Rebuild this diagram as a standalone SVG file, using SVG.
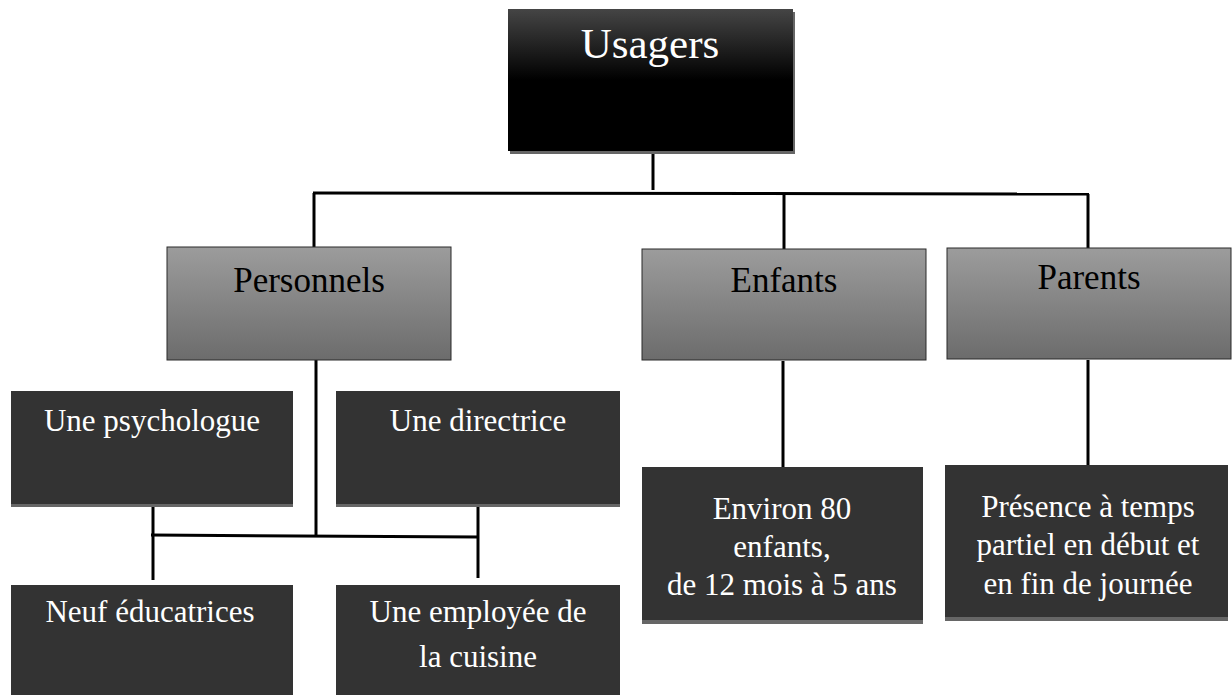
<svg xmlns="http://www.w3.org/2000/svg" width="1232" height="695" viewBox="0 0 1232 695">
<defs>
<linearGradient id="gTop" x1="0" y1="0" x2="0" y2="1">
<stop offset="0" stop-color="#454545"/>
<stop offset="0.5" stop-color="#000"/>
<stop offset="1" stop-color="#000"/>
</linearGradient>
<linearGradient id="gMid" x1="0" y1="0" x2="0" y2="1">
<stop offset="0" stop-color="#9c9c9c"/>
<stop offset="1" stop-color="#6c6c6c"/>
</linearGradient>
</defs>
<style>
text{font-family:"Liberation Serif","Times New Roman",serif;text-anchor:middle}
.shadow{fill:#666}
.top{fill:url(#gTop)}
.mid{fill:url(#gMid);stroke:#2a2a2a;stroke-width:1}
.dark{fill:#333}
.tw{fill:#fff;font-size:31px}
.tb{fill:#000;font-size:35px}
.conn line{stroke:#000;stroke-width:3}
</style>
<g id="connectors" class="conn">
<line x1="653" y1="151" x2="653" y2="190"/>
<line x1="313" y1="193" x2="1089" y2="194"/>
<line x1="314" y1="193" x2="314" y2="247"/>
<line x1="784" y1="193" x2="784" y2="250"/>
<line x1="1088" y1="194" x2="1088" y2="248"/>
<line x1="316" y1="360" x2="316" y2="537"/>
<line x1="151" y1="535" x2="479" y2="537"/>
<line x1="153" y1="502" x2="153" y2="580"/>
<line x1="478" y1="500" x2="478" y2="578"/>
<line x1="783" y1="361" x2="783" y2="468"/>
<line x1="1088" y1="360" x2="1088" y2="466"/>
</g>
<g id="usagers">
<rect class="shadow" x="510" y="12" width="285" height="142"/>
<rect class="top" x="508" y="9" width="285" height="142"/>
<text x="650" y="58" fill="#fff" font-size="43">Usagers</text>
</g>
<g id="personnels">
<rect class="mid" x="167" y="247" width="284" height="113"/>
<text class="tb" x="309" y="292">Personnels</text>
</g>
<g id="enfants">
<rect class="mid" x="642" y="249" width="284" height="111"/>
<text class="tb" x="784" y="292">Enfants</text>
</g>
<g id="parents">
<rect class="mid" x="947" y="248" width="284" height="111"/>
<text class="tb" x="1089" y="289">Parents</text>
</g>
<g id="psychologue">
<rect class="shadow" x="11" y="395" width="282" height="112"/>
<rect class="dark" x="11" y="391" width="282" height="113"/>
<text class="tw" x="152" y="431">Une psychologue</text>
</g>
<g id="directrice">
<rect class="shadow" x="336" y="395" width="284" height="112"/>
<rect class="dark" x="336" y="391" width="284" height="113"/>
<text class="tw" x="478" y="431">Une directrice</text>
</g>
<g id="educatrices">
<rect class="dark" x="11" y="585" width="282" height="112"/>
<text class="tw" x="150" y="622">Neuf éducatrices</text>
</g>
<g id="employee">
<rect class="dark" x="336" y="585" width="284" height="112"/>
<text class="tw" x="478" y="622">Une employée de</text>
<text class="tw" x="478" y="667">la cuisine</text>
</g>
<g id="environ">
<rect class="shadow" x="642" y="471" width="281" height="153"/>
<rect class="dark" x="642" y="467" width="281" height="153"/>
<text class="tw" x="782" y="519">Environ 80</text>
<text class="tw" x="782" y="557">enfants,</text>
<text class="tw" x="782" y="595">de 12 mois à 5 ans</text>
</g>
<g id="presence">
<rect class="shadow" x="945" y="469" width="283" height="152"/>
<rect class="dark" x="945" y="465" width="283" height="152"/>
<text class="tw" x="1088" y="517">Présence à temps</text>
<text class="tw" x="1088" y="555">partiel en début et</text>
<text class="tw" x="1088" y="594">en fin de journée</text>
</g>
</svg>
